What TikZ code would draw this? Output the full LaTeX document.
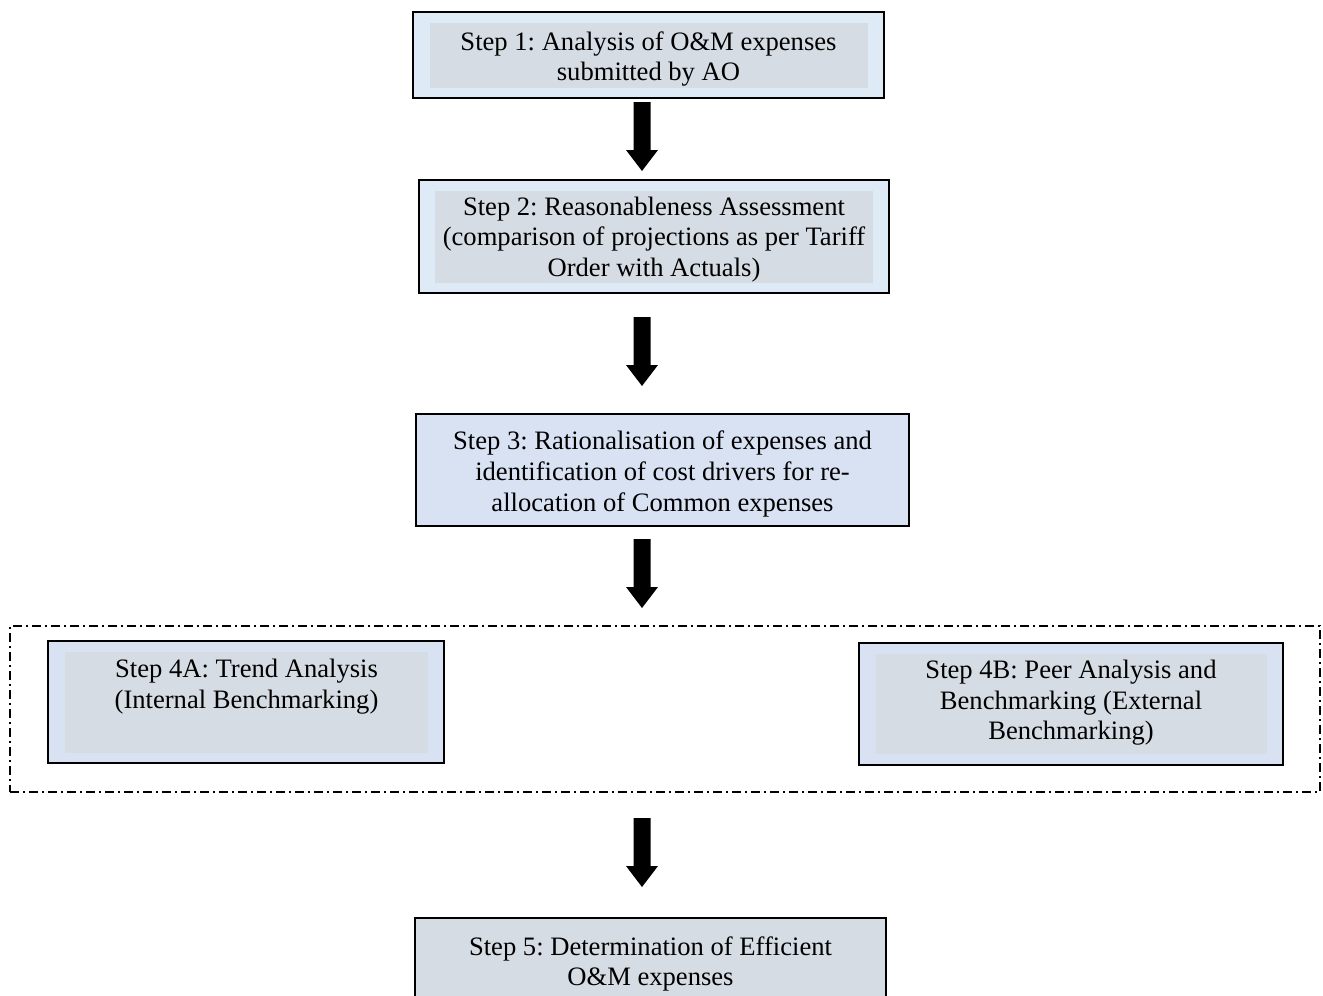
\documentclass[tikz,border=0pt]{standalone}
\usepackage{fontspec}
\setmainfont{Liberation Serif}
\frenchspacing
\definecolor{paleblue}{HTML}{DEEAF6}
\definecolor{lightblue}{HTML}{D9E2F3}
\definecolor{bluegrey}{HTML}{D6DCE4}
\tikzset{
  outerbox/.style={draw=black, line width=1.8pt, inner sep=0pt, outer sep=0pt},
  innerbox/.style={inner sep=0pt, outer sep=0pt, fill=bluegrey},
  steptext/.style={align=center, inner sep=0pt, font=\fontsize{26.6}{30.6}\selectfont\frenchspacing},
  groupframe/.style={draw=black, line width=1.3pt, dash pattern=on 9pt off 4pt on 2pt off 4pt},
  fatarrow/.pic={\fill[black] (-8.5,0) -- (8.5,0) -- (8.5,48) -- (16,48) -- (0,69) -- (-16,48) -- (-8.5,48) -- cycle;}
}
\begin{document}
\begin{tikzpicture}[x=1pt,y=-1pt]
\clip (0,0) rectangle (1323,996);
\fill[white] (0,0) rectangle (1323,996);

% Step 1
\node[outerbox, fill=paleblue, minimum width=471pt, minimum height=86pt] (s1) at (648.5,55) {};
\node[innerbox, minimum width=438pt, minimum height=65pt] (s1in) at (649,55.5) {};
\node[steptext] (s1t) at (648.5,59) {Step 1: Analysis of O\&M expenses\\submitted by AO};

% Step 2
\node[outerbox, fill=paleblue, minimum width=470pt, minimum height=113pt] (s2) at (654,236.5) {};
\node[innerbox, minimum width=438pt, minimum height=92pt] (s2in) at (654,237) {};
\node[steptext] (s2t) at (654,239.5) {Step 2: Reasonableness Assessment\\(comparison of projections as per Tariff\\Order with Actuals)};

% Step 3
\node[outerbox, fill=lightblue, minimum width=493pt, minimum height=112pt] (s3) at (662.5,470) {};
\node[steptext] (s3t) at (662.5,474) {Step 3: Rationalisation of expenses and\\identification of cost drivers for re-\\allocation of Common expenses};

% Step 4 group
\node[groupframe, inner sep=0pt, minimum width=1310pt, minimum height=166pt] (g4) at (665,709) {};

% Step 4A
\node[outerbox, fill=lightblue, minimum width=396pt, minimum height=122pt] (s4a) at (246,702) {};
\node[innerbox, minimum width=363pt, minimum height=101pt] (s4ain) at (246.5,702.5) {};
\node[steptext] (s4at) at (246.5,686.5) {Step 4A: Trend Analysis\\(Internal Benchmarking)};

% Step 4B
\node[outerbox, fill=lightblue, minimum width=424pt, minimum height=122pt] (s4b) at (1071,704) {};
\node[innerbox, minimum width=391pt, minimum height=100pt] (s4bin) at (1071.5,704) {};
\node[steptext] (s4bt) at (1071,703) {Step 4B: Peer Analysis and\\Benchmarking (External\\Benchmarking)};

% Step 5
\node[outerbox, fill=bluegrey, minimum width=471pt, minimum height=100pt] (s5) at (650.5,968) {};
\node[steptext] (s5t) at (650.5,964) {Step 5: Determination of Efficient\\O\&M expenses};

% Arrows
\coordinate (a1) at (642,102);
\coordinate (a2) at (642,317);
\coordinate (a3) at (642,539);
\coordinate (a4) at (642,818);
\pic at (a1) {fatarrow};
\pic at (a2) {fatarrow};
\pic at (a3) {fatarrow};
\pic at (a4) {fatarrow};
\end{tikzpicture}
\end{document}
